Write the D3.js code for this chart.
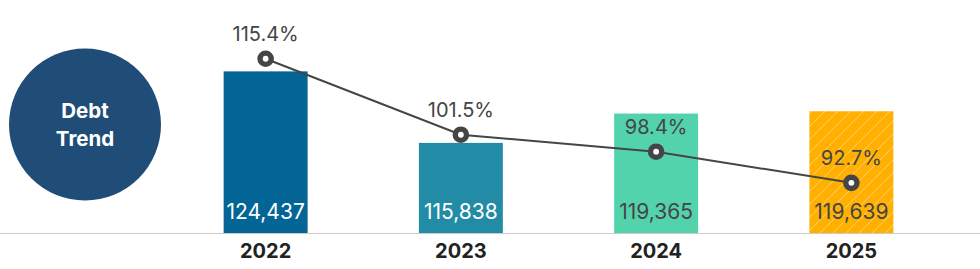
<!DOCTYPE html>
<html>
<head>
<meta charset="utf-8">
<script src="https://cdn.jsdelivr.net/npm/d3@7/dist/d3.min.js"></script>
<style>
  html, body { margin: 0; padding: 0; background: #fff; }
  svg { display: block; font-family: Inter, "Noto Sans", sans-serif; }
</style>
</head>
<body>
<svg id="chart" width="980" height="269"></svg>
<script>
const years = ["2022", "2023", "2024", "2025"];
const debtValues = [124437, 115838, 119365, 119639];
const ratioValues = [115.4, 101.5, 98.4, 92.7];
const barColors = ["#026595", "#228BA6", "#53D3AB", "#FFB000"];
const valueLabelColors = ["#ffffff", "#ffffff", "#454545", "#454545"];
const titleLines = ["Debt", "Trend"];

const W = 980, H = 269;
const baseY = 233;
const svg = d3.select("#chart");

// hatch pattern for the projected year
const defs = svg.append("defs");
const pat = defs.append("pattern")
  .attr("id", "hatch").attr("patternUnits", "userSpaceOnUse")
  .attr("width", 13).attr("height", 13);
pat.append("rect").attr("width", 13).attr("height", 13).attr("fill", barColors[3]);
pat.append("path")
  .attr("d", "M-1,1 l2,-2 M0,13 l13,-13 M12,14 l2,-2")
  .attr("stroke", "rgba(255,255,255,0.45)").attr("stroke-width", 0.9);

// scales
const x = d3.scaleBand().domain(years).range([168, 949]).padding(0);
const barW = x.bandwidth() * 0.43;
const yBar = d3.scaleLinear().domain([105000, 125000]).range([baseY, 66.7]);
const yLine = d3.scaleLinear().domain([90, 120]).range([197.6, 33.6]);
const cx = d => x(d) + x.bandwidth() / 2;

// title circle
const g0 = svg.append("g");
g0.append("circle").attr("cx", 85).attr("cy", 124.5).attr("r", 76).attr("fill", "#1F4D78");
g0.selectAll("text.title").data(titleLines).join("text")
  .attr("class", "title")
  .attr("x", 85).attr("y", (d, i) => 118 + i * 27.5)
  .attr("text-anchor", "middle")
  .attr("fill", "#fff").attr("font-weight", 700).attr("font-size", 20.5)
  .text(d => d);

// axis baseline
svg.append("line").attr("x1", 0).attr("x2", W).attr("y1", baseY + 0.5).attr("y2", baseY + 0.5)
  .attr("stroke", "#cccccc").attr("stroke-width", 1);

const rows = years.map((y, i) => ({ year: y, v: debtValues[i], r: ratioValues[i], i }));

// bars
svg.selectAll("rect.bar").data(rows).join("rect")
  .attr("class", "bar")
  .attr("x", d => cx(d.year) - barW / 2)
  .attr("width", barW)
  .attr("y", d => yBar(d.v))
  .attr("height", d => baseY - yBar(d.v))
  .attr("fill", d => d.i === 3 ? "url(#hatch)" : barColors[d.i]);

// value labels inside bars
svg.selectAll("text.val").data(rows).join("text")
  .attr("class", "val")
  .attr("x", d => cx(d.year)).attr("y", baseY - 14)
  .attr("text-anchor", "middle").attr("font-size", 21)
  .attr("fill", d => valueLabelColors[d.i])
  .text(d => d3.format(",")(d.v));

// year axis labels
const xAxis = d3.axisBottom(x).tickSize(0).tickPadding(0);
const ax = svg.append("g").attr("transform", `translate(0,${baseY})`).call(xAxis);
ax.select(".domain").remove();
ax.selectAll("text")
  .attr("dy", 0).attr("y", 25)
  .attr("font-family", "Inter, 'Noto Sans', sans-serif")
  .attr("font-size", 20).attr("font-weight", 700).attr("fill", "#222");

// ratio line
const line = d3.line().x(d => cx(d.year)).y(d => yLine(d.r));
svg.append("path").datum(rows).attr("d", line)
  .attr("fill", "none").attr("stroke", "#454545").attr("stroke-width", 2);

svg.selectAll("circle.pt").data(rows).join("circle")
  .attr("class", "pt")
  .attr("cx", d => cx(d.year)).attr("cy", d => yLine(d.r))
  .attr("r", 5.6).attr("fill", "#fff")
  .attr("stroke", "#454545").attr("stroke-width", 5.4);

svg.selectAll("text.pct").data(rows).join("text")
  .attr("class", "pct")
  .attr("x", d => cx(d.year)).attr("y", d => yLine(d.r) - 18)
  .attr("text-anchor", "middle").attr("font-size", 20)
  .attr("fill", "#454545")
  .text(d => d.r.toFixed(1) + "%");
</script>
</body>
</html>
